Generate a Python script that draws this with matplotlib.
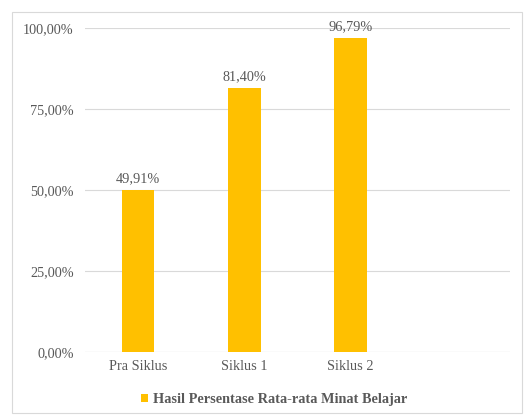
import matplotlib.pyplot as plt
from matplotlib.patches import Rectangle

categories = ['Pra Siklus', 'Siklus 1', 'Siklus 2', '']
values = [49.91, 81.40, 96.79, None]
value_labels = ['49,91%', '81,40%', '96,79%']
yticks = [0, 25, 50, 75, 100]
ytick_labels = ['0,00%', '25,00%', '50,00%', '75,00%', '100,00%']
series_name = 'Hasil Persentase Rata-rata Minat Belajar'

plt.rcParams['font.family'] = ['Liberation Serif']
gray = '#595959'
bar_color = '#FFC000'
fs = 10.3

fig = plt.figure(figsize=(5.27, 4.17), dpi=100)
ax = fig.add_axes([0.161, 0.156, 0.807, 0.777])

# outer chart border
fig.patches.append(Rectangle((12 / 527, 4 / 417), 510 / 527, 401 / 417,
                             transform=fig.transFigure, fill=False,
                             edgecolor='#d9d9d9', linewidth=0.8))

xs = list(range(len(categories)))
bar_x = xs[:3]
bar_vals = values[:3]
bars = ax.bar(bar_x, bar_vals, width=0.31, color=bar_color, zorder=3,
              label=series_name)
for b, lab in zip(bars, value_labels):
    ax.text(b.get_x() + b.get_width() / 2, b.get_height() + 1.5, lab,
            ha='center', va='bottom', fontsize=fs, color=gray)

ax.set_xlim(-0.5, 3.5)
ax.set_ylim(0, 100)
ax.set_yticks(yticks)
ax.set_yticklabels(ytick_labels, fontsize=fs, color=gray)
ax.set_xticks(xs)
ax.set_xticklabels(categories, fontsize=fs, color=gray)
ax.tick_params(length=0, pad=6)
ax.tick_params(axis='y', pad=8)
ax.grid(axis='y', color='#d9d9d9', linewidth=0.8, zorder=0)
for s in ax.spines.values():
    s.set_visible(False)
ax.axhline(0, color='#d9d9d9', linewidth=0.8, zorder=2)

fig.legend(handles=[bars], labels=[series_name], loc='center',
           bbox_to_anchor=(0.52, 1 - 400 / 417), frameon=False,
           prop={'weight': 'bold', 'size': fs}, handlelength=0.5,
           handleheight=0.5, handletextpad=0.3, labelcolor=gray)

fig.savefig('out.png', dpi=100)
